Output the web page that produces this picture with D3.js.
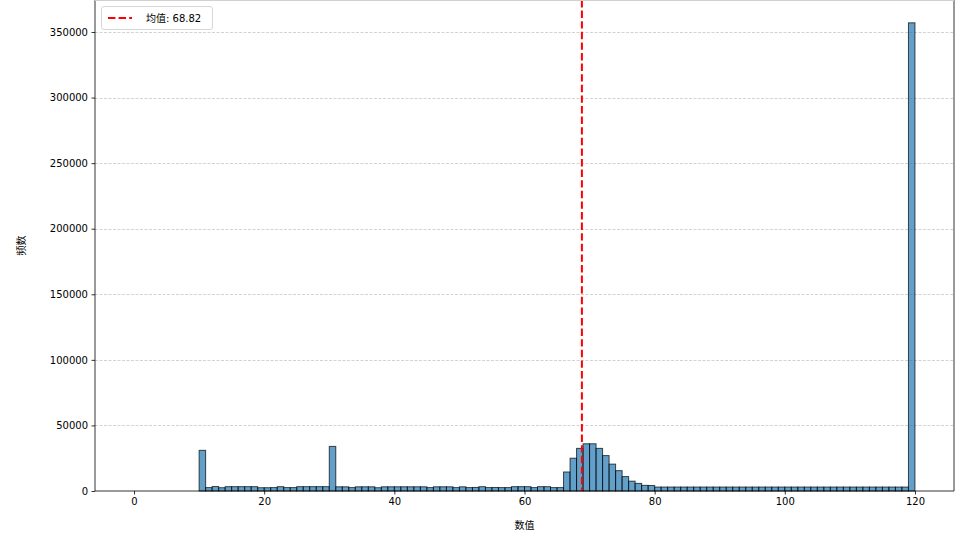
<!DOCTYPE html>
<html>
<head>
<meta charset="utf-8">
<script src="https://cdn.jsdelivr.net/npm/d3@7"></script>
<style>
  body { margin: 0; background: #fff; }
  svg { display: block; font-family: "DejaVu Sans", "Noto Sans CJK SC", sans-serif; }
</style>
</head>
<body>
<svg id="chart" width="968" height="544"></svg>
<script>
// ---- data ----
const binStart = 0;
const binWidth = 1;
const counts = [
  0, 0, 0, 0, 0, 0, 0, 0, 0, 0,
  31000, 2600, 3400, 2500, 3300, 3300, 3300, 3300, 3300, 2500,
  2500, 2600, 3300, 2600, 2600, 3300, 3300, 3300, 3300, 3300,
  34000, 3200, 3200, 2600, 3200, 3200, 3200, 2500, 3200, 3200,
  3200, 3200, 3200, 3200, 3200, 2600, 3200, 3200, 3200, 2600,
  3200, 2600, 2700, 3300, 2600, 2700, 2600, 2600, 3300, 3300,
  3300, 2600, 3300, 3300, 2600, 2600, 14500, 25000, 32500, 36000,
  36000, 32500, 27000, 20500, 15500, 11000, 7500, 5800, 4300, 4200,
  3000, 3000, 3000, 3000, 3000, 3000, 3000, 3000, 3000, 3000,
  3000, 3000, 3000, 3000, 3000, 3000, 3000, 3000, 3000, 3000,
  3000, 3000, 3000, 3000, 3000, 3000, 3000, 3000, 3000, 3000,
  3000, 3000, 3000, 3000, 3000, 3000, 3000, 3000, 3000, 357000
];
const meanValue = 68.82;
const legendLabel = "均值: " + meanValue.toFixed(2);
const xLabel = "数值";
const yLabel = "频数";
const xTicks = [0, 20, 40, 60, 80, 100, 120];
const yTicks = [0, 50000, 100000, 150000, 200000, 250000, 300000, 350000];

// ---- layout ----
const svg = d3.select("#chart");
const L = 95, R = 954, T = 0, B = 491;

const x = d3.scaleLinear().domain([-6, 126]).range([L, R]);
const y = d3.scaleLinear().domain([0, 374400]).range([B, T]);

// grid
svg.append("g").selectAll("line").data(yTicks.slice(1)).join("line")
  .attr("x1", L).attr("x2", R)
  .attr("y1", d => Math.round(y(d)) + 0.5).attr("y2", d => Math.round(y(d)) + 0.5)
  .attr("stroke", "#b0b0b0").attr("stroke-opacity", 0.7)
  .attr("stroke-width", 0.8).attr("stroke-dasharray", "3,1.5");

// bars
const bins = counts.map((c, i) => ({ x0: binStart + i * binWidth, x1: binStart + (i + 1) * binWidth, c }));
svg.append("g").selectAll("rect").data(bins).join("rect")
  .attr("x", d => x(d.x0))
  .attr("width", d => x(d.x1) - x(d.x0))
  .attr("y", d => y(d.c))
  .attr("height", d => y(0) - y(d.c))
  .attr("fill", "#1f77b4").attr("fill-opacity", 0.7)
  .attr("stroke", "#000").attr("stroke-opacity", 0.7).attr("stroke-width", 1);

// mean line
svg.append("line")
  .attr("x1", x(meanValue)).attr("x2", x(meanValue))
  .attr("y1", T).attr("y2", B)
  .attr("stroke", "#ff0000").attr("stroke-width", 2)
  .attr("stroke-dasharray", "7.4,3.2");

// axes
const xAxis = svg.append("g").attr("transform", `translate(0,${B})`)
  .call(d3.axisBottom(x).tickValues(xTicks).tickSize(3.5).tickPadding(3.5).tickFormat(d3.format("d")));
const yAxis = svg.append("g").attr("transform", `translate(${L},0)`)
  .call(d3.axisLeft(y).tickValues(yTicks).tickSize(3.5).tickPadding(3.5).tickFormat(d3.format("d")));
[xAxis, yAxis].forEach(a => {
  a.select(".domain").remove();
  a.selectAll("text").attr("font-size", 10).attr("fill", "#000")
    .attr("font-family", "DejaVu Sans");
  a.selectAll("line").attr("stroke", "#000").attr("stroke-width", 0.8);
});

// spines (top one is mostly cut off in the reference, so it appears faint)
svg.append("line").attr("x1", L).attr("x2", L).attr("y1", T).attr("y2", B)
  .attr("stroke", "#000").attr("stroke-width", 0.8);
svg.append("line").attr("x1", R).attr("x2", R).attr("y1", T).attr("y2", B)
  .attr("stroke", "#000").attr("stroke-width", 0.8);
svg.append("line").attr("x1", L).attr("x2", R).attr("y1", B).attr("y2", B)
  .attr("stroke", "#000").attr("stroke-width", 0.8);
svg.append("line").attr("x1", L).attr("x2", R).attr("y1", 0.5).attr("y2", 0.5)
  .attr("stroke", "#d0d0d0").attr("stroke-width", 1);

// axis labels
svg.append("text").attr("x", (L + R) / 2).attr("y", 529)
  .attr("text-anchor", "middle").attr("font-size", 10)
  .attr("font-family", "Noto Sans CJK SC").text(xLabel);
svg.append("text").attr("transform", `translate(25,${(T + B) / 2}) rotate(-90)`)
  .attr("text-anchor", "middle").attr("font-size", 10)
  .attr("font-family", "Noto Sans CJK SC").text(yLabel);

// legend
const lg = svg.append("g");
lg.append("rect").attr("x", 101.5).attr("y", 6.5).attr("width", 111).attr("height", 23).attr("rx", 2.5)
  .attr("fill", "#fff").attr("fill-opacity", 0.8).attr("stroke", "#cccccc").attr("stroke-width", 0.8);
lg.append("line").attr("x1", 108).attr("x2", 132).attr("y1", 18).attr("y2", 18)
  .attr("stroke", "#ff0000").attr("stroke-width", 2).attr("stroke-dasharray", "7.4,3.2");
lg.append("text").attr("x", 146).attr("y", 22).attr("font-size", 10)
  .attr("font-family", "DejaVu Sans, Noto Sans CJK SC").text(legendLabel);
</script>
</body>
</html>
